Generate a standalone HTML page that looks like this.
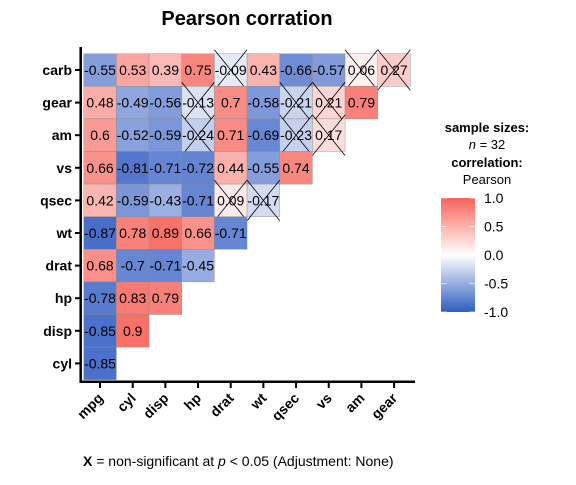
<!DOCTYPE html>
<html><head><meta charset="utf-8"><style>
body{margin:0;background:#fff}
text{font-family:"Liberation Sans",Arial,sans-serif}
</style></head><body>
<svg id="chart" width="576" height="480" xmlns="http://www.w3.org/2000/svg">
<defs><linearGradient id="grad" x1="0" y1="0" x2="0" y2="1">
<stop offset="0" stop-color="rgb(246,100,90)"/><stop offset="0.5" stop-color="#fff"/><stop offset="1" stop-color="rgb(46,94,190)"/></linearGradient></defs>
<text x="247" y="25" text-anchor="middle" font-size="20" font-weight="bold">Pearson corration</text>
<g id="cells"></g>
<g id="axes"></g>
<text x="83" y="466" font-size="14"><tspan font-weight="bold">X</tspan> = non-significant at <tspan font-style="italic">p</tspan> &lt; 0.05 (Adjustment: None)</text>
<g>
<text x="487" y="132" text-anchor="middle" font-size="13" font-weight="bold">sample sizes:</text>
<text x="487" y="149" text-anchor="middle" font-size="13"><tspan font-style="italic">n</tspan> = 32</text>
<text x="487" y="167" text-anchor="middle" font-size="13" font-weight="bold">correlation:</text>
<text x="487" y="184" text-anchor="middle" font-size="13">Pearson</text>
<rect x="441" y="198" width="34" height="114" fill="url(#grad)"/>
<g id="legticks"></g>
</g>
</svg>
<script>
const rowLabels=["carb","gear","am","vs","qsec","wt","drat","hp","disp","cyl"];
const colLabels=["mpg","cyl","disp","hp","drat","wt","qsec","vs","am","gear"];
const corrValues=[
[-0.55,0.53,0.39,0.75,-0.09,0.43,-0.66,-0.57,0.06,0.27],
[0.48,-0.49,-0.56,-0.13,0.7,-0.58,-0.21,0.21,0.79],
[0.6,-0.52,-0.59,-0.24,0.71,-0.69,-0.23,0.17],
[0.66,-0.81,-0.71,-0.72,0.44,-0.55,0.74],
[0.42,-0.59,-0.43,-0.71,0.09,-0.17],
[-0.87,0.78,0.89,0.66,-0.71],
[0.68,-0.7,-0.71,-0.45],
[-0.78,0.83,0.79],
[-0.85,0.9],
[-0.85]];
const nonSig=[[4,8,9],[3,6,7],[3,6,7],[],[4,5],[],[],[],[],[]];
const legendTicks=[1.0,0.5,0.0,-0.5,-1.0];
const NS="http://www.w3.org/2000/svg";
const x0=83.7,y0=53.7,cw=32.67,ch=32.6;
const xPos=c=>x0+c*cw, yPos=r=>y0+r*ch;
function color(v){const t=Math.pow(Math.abs(v),0.85);let e=v>=0?[246,100,90]:[50,92,195];
return `rgb(${Math.round(255+(e[0]-255)*t)},${Math.round(255+(e[1]-255)*t)},${Math.round(255+(e[2]-255)*t)})`;}
function mk(tag,attrs,parent){const e=document.createElementNS(NS,tag);for(const k in attrs)e.setAttribute(k,attrs[k]);parent.appendChild(e);return e;}
const cells=document.getElementById('cells');
corrValues.forEach((row,r)=>row.forEach((v,c)=>{
 const g=mk('g',{},cells);
 
 
 mk('rect',{x:xPos(c),y:yPos(r),width:cw,height:ch,fill:color(v),stroke:'#8a8a8a','stroke-width':0.4},g);
 if(nonSig[r].includes(c)){
  mk('line',{x1:xPos(c),y1:yPos(r)-4,x2:xPos(c)+cw,y2:yPos(r)+ch+4,stroke:'#000','stroke-width':0.8},g);
  mk('line',{x1:xPos(c)+cw,y1:yPos(r)-4,x2:xPos(c),y2:yPos(r)+ch+4,stroke:'#000','stroke-width':0.8},g);
 }
 const t=mk('text',{x:xPos(c)+cw/2,y:yPos(r)+ch/2+5,'text-anchor':'middle','font-size':14},g);
 t.textContent=String(v);
}));
const ax=document.getElementById('axes');
mk('line',{x1:80.7,y1:47,x2:80.7,y2:383,stroke:'#000','stroke-width':2.5},ax);
mk('line',{x1:79.5,y1:381.7,x2:415,y2:381.7,stroke:'#000','stroke-width':2.5},ax);
rowLabels.forEach((l,r)=>{const y=yPos(r)+ch/2;
 mk('line',{x1:75,y1:y,x2:80,y2:y,stroke:'#000','stroke-width':2},ax);
 const t=mk('text',{x:72,y:y+5,'text-anchor':'end','font-size':14,'font-weight':'bold'},ax);
 
 
 t.textContent=l;});
colLabels.forEach((l,c)=>{const x=xPos(c)+cw/2;
 mk('line',{x1:x,y1:382,x2:x,y2:388,stroke:'#000','stroke-width':2},ax);
 const t=mk('text',{x:x+4,y:399,'text-anchor':'end','font-size':14,'font-weight':'bold',transform:`rotate(-45 ${x+4} 399)`},ax);
 
 
 t.textContent=l;});
const lt=document.getElementById('legticks');
legendTicks.forEach(v=>{const y=198+(1-v)/2*114;
 mk('line',{x1:441,y1:y,x2:447,y2:y,stroke:'#fff','stroke-width':0.6},lt);
 mk('line',{x1:469,y1:y,x2:475,y2:y,stroke:'#fff','stroke-width':0.6},lt);
 const t=mk('text',{x:484,y:y+5,'font-size':14},lt);
 
 
 t.textContent=v.toFixed(1);});
</script>
</body></html>
